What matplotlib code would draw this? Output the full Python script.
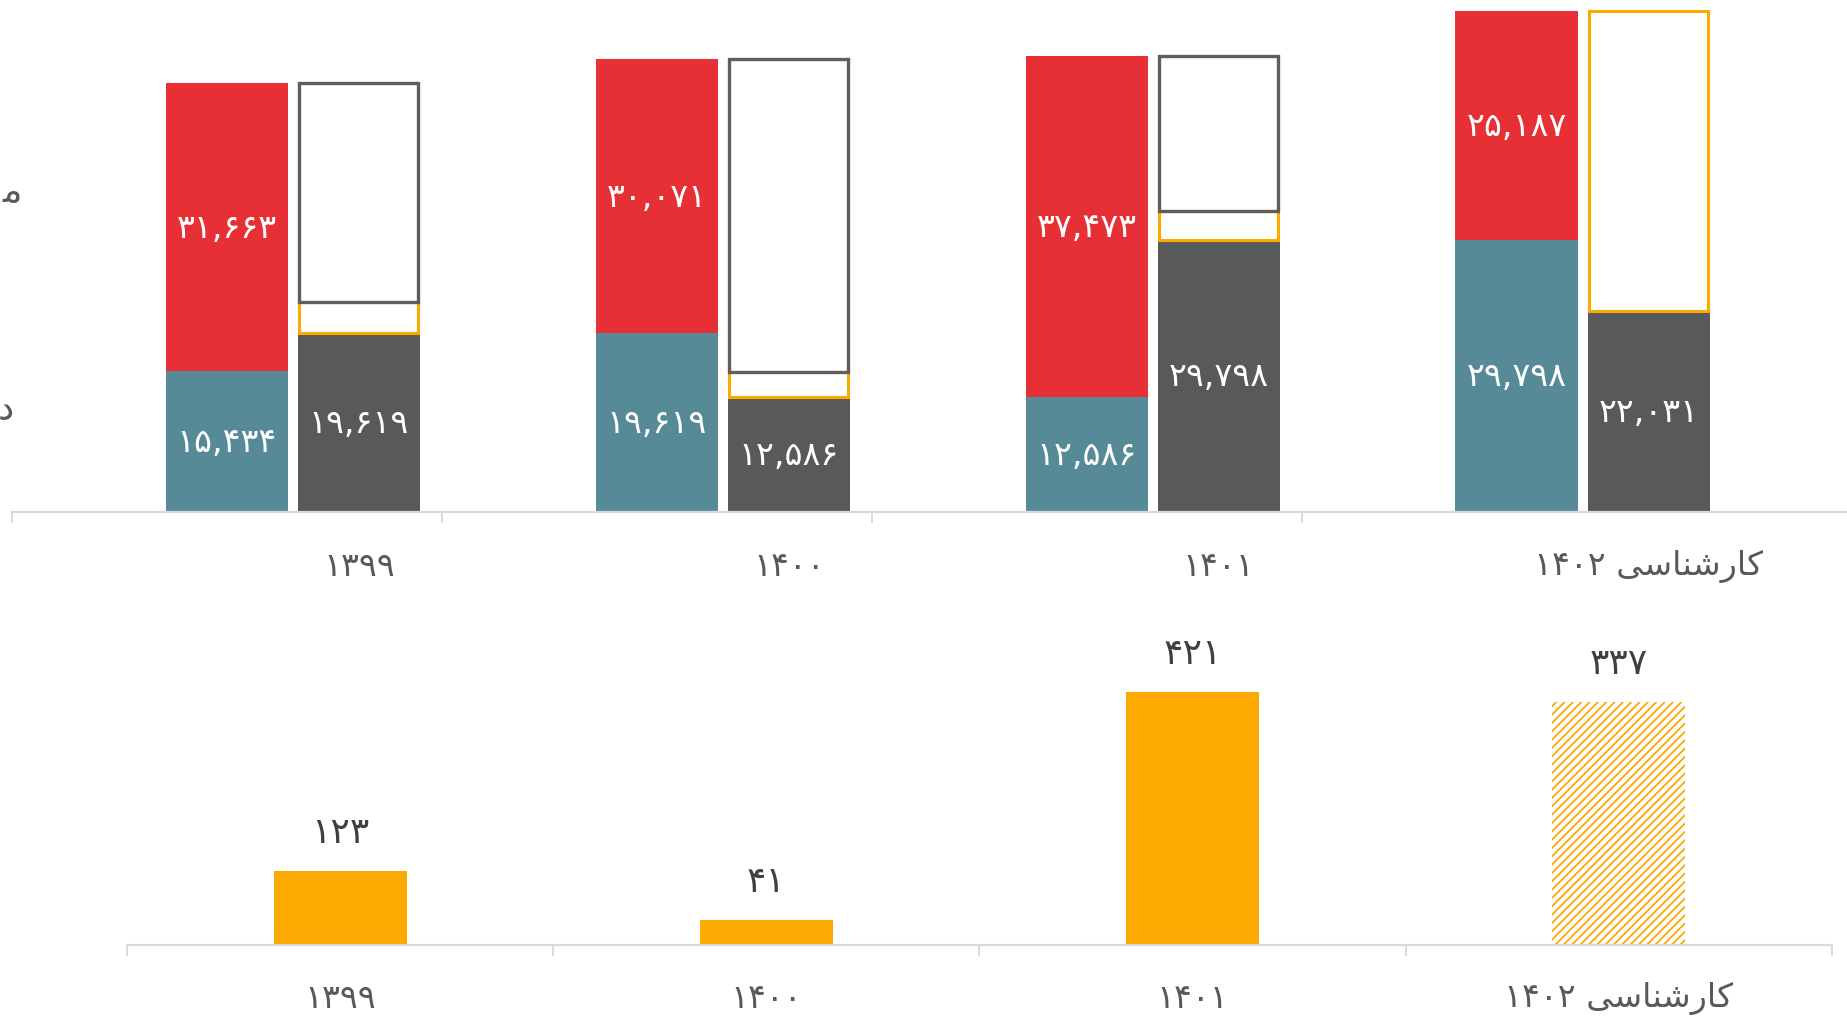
import numpy as np
import matplotlib
matplotlib.use("Agg")
import matplotlib.pyplot as plt

plt.rcParams['font.family'] = ['DejaVu Sans']
plt.rcParams['hatch.linewidth'] = 1.3

# categories (visual order, shaped Persian for the last one)
years = ["۱۳۹۹", "۱۴۰۰", "۱۴۰۱",
         "۱۴۰۲ " + "\uFBFD\uFEB3\uFE8E\uFEE8\uFEB7\uFEAD\uFE8E\uFB90"]

# top panel: left stack
teal_vals = [15434, 19619, 12586, 29798]
red_vals = [31663, 30071, 37473, 25187]
# top panel: right stack
dark_vals = [19619, 12586, 29798, 22031]
orange_box = [3400, 2700, 3200, 32950]
gray_box = [24080, 34400, 17060, 0]

# bottom panel
bottom_vals = [123, 41, 421, 405]
bottom_labels = ["۱۲۳", "۴۱", "۴۲۱", "۳۳۷"]
bottom_hatched = [False, False, False, True]

RED = "#E63036"
TEAL = "#568A97"
DARK = "#58595B"
ORANGE = "#FDAA00"
OUTLINE = "#625D57"
AXIS = "#D9D9D9"
TXT = "#595959"

FA = str.maketrans("0123456789", "۰۱۲۳۴۵۶۷۸۹")


def fa(n):
    return f"{n:,}".translate(FA)


W, H = 1847, 1020
fig = plt.figure(figsize=(W / 100, H / 100), dpi=100)

# ---------------- top panel ----------------
ax = fig.add_axes([11.8 / W, 1 - 512.5 / H, 1 - 11.8 / W, 512.5 / H])
x = np.arange(len(years))
bw = 0.285
xb = x + 0.307

ax.bar(x, teal_vals, bw, color=TEAL, zorder=2)
ax.bar(x, red_vals, bw, bottom=teal_vals, color=RED, zorder=2)
ax.bar(xb, dark_vals, bw, color=DARK, zorder=2)
ax.bar(xb, orange_box, bw * 0.97, bottom=dark_vals, facecolor="white",
       edgecolor=ORANGE, linewidth=2.2, zorder=3)
gb_bottom = np.array(dark_vals) + np.array(orange_box)
for i in range(len(years)):
    if gray_box[i] > 0:
        ax.bar(xb[i], gray_box[i], bw * 0.97, bottom=gb_bottom[i], facecolor="white",
               edgecolor=OUTLINE, linewidth=2.4, zorder=4)

for i in range(len(years)):
    ax.text(x[i], teal_vals[i] / 2, fa(teal_vals[i]), color="white",
            ha="center", va="center", fontsize=24)
    ax.text(x[i], teal_vals[i] + red_vals[i] / 2, fa(red_vals[i]), color="white",
            ha="center", va="center", fontsize=24)
    ax.text(xb[i], dark_vals[i] / 2, fa(dark_vals[i]), color="white",
            ha="center", va="center", fontsize=24)
    ax.annotate(years[i], xy=(xb[i], 0), xycoords=("data", "axes fraction"),
                xytext=(0, -39), textcoords="offset points",
                ha="center", va="center", fontsize=24, color=TXT)

ax.set_xlim(-0.5, 3.768)
ax.set_ylim(0, 56330)
for s in ["top", "right", "left"]:
    ax.spines[s].set_visible(False)
ax.spines["bottom"].set_color(AXIS)
ax.spines["bottom"].set_linewidth(1.6)
ax.set_yticks([])
ax.set_xticks(x - 0.5, [""] * len(x))
ax.tick_params(axis="x", length=8, width=1.4, color=AXIS)

# cut-off legend text on the far left
fig.text(22 / W, 1 - 192 / H, "\uFEE3", ha="right", va="center", fontsize=26, color=TXT)
fig.text(14 / W, 1 - 410 / H, "\u062F", ha="right", va="center", fontsize=26, color=TXT)

# ---------------- bottom panel ----------------
ax2 = fig.add_axes([127.2 / W, 1 - 946 / H, (1831.8 - 127.2) / W, (946 - 612.6) / H])
bw2 = 0.312
for i in range(len(years)):
    if bottom_hatched[i]:
        ax2.bar(x[i], bottom_vals[i], bw2, facecolor="white", edgecolor=ORANGE,
                linewidth=0, hatch="////", zorder=2)
    else:
        ax2.bar(x[i], bottom_vals[i], bw2, color=ORANGE, zorder=2)
    ax2.annotate(bottom_labels[i], xy=(x[i], bottom_vals[i]), xytext=(0, 28),
                 textcoords="offset points", ha="center", va="center",
                 fontsize=26, color="#404040")
    ax2.annotate(years[i], xy=(x[i], 0), xycoords=("data", "axes fraction"),
                 xytext=(0, -38), textcoords="offset points",
                 ha="center", va="center", fontsize=24, color=TXT)

ax2.set_xlim(-0.5, 3.5)
ax2.set_ylim(0, 555)
for s in ["top", "right", "left"]:
    ax2.spines[s].set_visible(False)
ax2.spines["bottom"].set_color(AXIS)
ax2.spines["bottom"].set_linewidth(1.6)
ax2.set_yticks([])
ax2.set_xticks(np.arange(len(x) + 1) - 0.5, [""] * (len(x) + 1))
ax2.tick_params(axis="x", length=8, width=1.4, color=AXIS)

fig.savefig("out.png", dpi=100)
